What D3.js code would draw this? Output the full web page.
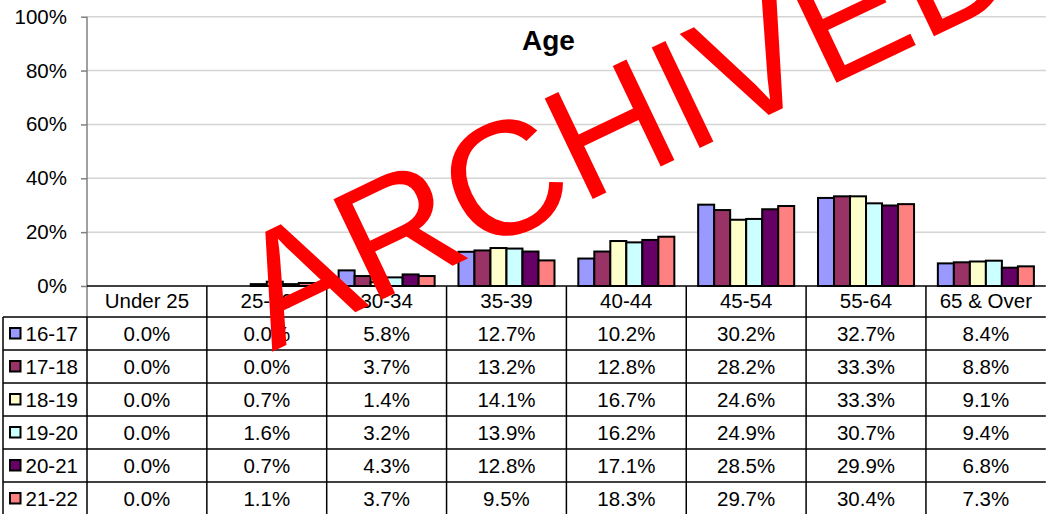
<!DOCTYPE html>
<html>
<head>
<meta charset="utf-8">
<script src="https://cdn.jsdelivr.net/npm/d3@7"></script>
<style>
  body { margin: 0; background: #fff; }
  text { font-family: Arial, 'Liberation Sans', sans-serif; }
</style>
</head>
<body>
<svg id="age-view" width="1046" height="514"></svg>
<script>

// categories along the x axis / table header
const categories = ['Under 25', '25-29', '30-34', '35-39', '40-44', '45-54', '55-64', '65 & Over'];

// series (legend rows)
const seriesNames = ['16-17', '17-18', '18-19', '19-20', '20-21', '21-22'];
const seriesColors = ['#9999FF', '#993366', '#FFFFCC', '#CCFFFF', '#660066', '#FF8080'];

// percent values, one array per series
const s16_17 = [0.0, 0.0, 5.8, 12.7, 10.2, 30.2, 32.7, 8.4];
const s17_18 = [0.0, 0.0, 3.7, 13.2, 12.8, 28.2, 33.3, 8.8];
const s18_19 = [0.0, 0.7, 1.4, 14.1, 16.7, 24.6, 33.3, 9.1];
const s19_20 = [0.0, 1.6, 3.2, 13.9, 16.2, 24.9, 30.7, 9.4];
const s20_21 = [0.0, 0.7, 4.3, 12.8, 17.1, 28.5, 29.9, 6.8];
const s21_22 = [0.0, 1.1, 3.7, 9.5, 18.3, 29.7, 30.4, 7.3];

const yTicks = [0, 20, 40, 60, 80, 100];

const title = 'Age';
const stamp = 'ARCHIVED';

class AgeView
{
  constructor()
  {
    this.svg = d3.select('#age-view');
    this.values = [s16_17, s17_18, s18_19, s19_20, s20_21, s21_22];

    this.left = 87;
    this.right = 1045.8;
    this.tableLeft = 3;
    this.headerTop = 286;
    this.headerBottom = 317;
    this.rowH = 33;
    this.fontSize = 20.5;

    this.x = d3.scaleBand().domain(categories).range([this.left, this.right]);
    this.xs = d3.scaleBand().domain(seriesNames).range([0, this.x.bandwidth()])
                .paddingInner(0).paddingOuter(0.744);
    this.y = d3.scaleLinear().domain([0, 100]).range([286, 16.7]);
    this.color = d3.scaleOrdinal().domain(seriesNames).range(seriesColors);
  }

  draw_grid()
  {
    this.svg.append('g')
      .selectAll('line')
      .data(yTicks.filter(t => t > 0))
      .join('line')
      .attr('x1', this.left).attr('x2', this.right)
      .attr('y1', d => this.y(d)).attr('y2', d => this.y(d))
      .attr('stroke', '#d4d4d4')
      .attr('stroke-width', 1.5);

    var axis = this.svg.append('g')
      .attr('transform', 'translate(' + this.left + ',0)')
      .call(d3.axisLeft(this.y).tickValues(yTicks).tickFormat(d => d + '%').tickSize(6).tickPadding(14));

    axis.select('.domain').remove();
    axis.selectAll('line').attr('stroke', '#808080').attr('stroke-width', 1.5);
    axis.selectAll('text')
      .attr('fill', '#000')
      .style('font-size', this.fontSize + 'px')
      .style('font-family', 'Arial, "Liberation Sans", sans-serif');

    // vertical axis line runs down through the header row
    this.svg.append('line')
      .attr('x1', this.left).attr('x2', this.left)
      .attr('y1', this.y(100)).attr('y2', this.headerBottom)
      .attr('stroke', '#808080').attr('stroke-width', 1.5);
  }

  draw_bars()
  {
    var rows = [];
    this.values.forEach((vals, si) => {
      vals.forEach((v, ci) => rows.push({series: seriesNames[si], cat: categories[ci], value: v}));
    });

    this.svg.append('g')
      .selectAll('rect')
      .data(rows)
      .join('rect')
      .attr('x', d => this.x(d.cat) + this.xs(d.series))
      .attr('width', this.xs.bandwidth())
      .attr('y', d => this.y(d.value))
      .attr('height', d => this.y(0) - this.y(d.value))
      .attr('fill', d => this.color(d.series))
      .attr('stroke', '#000')
      .attr('stroke-width', 2);
  }

  draw_table()
  {
    var g = this.svg.append('g');
    var bottom = this.headerBottom + this.rowH * seriesNames.length;
    var fs = this.fontSize;

    // zero line / table top
    g.append('line')
      .attr('x1', this.left).attr('x2', this.right)
      .attr('y1', this.y(0)).attr('y2', this.y(0))
      .attr('stroke', '#000').attr('stroke-width', 1.5);

    // row separators
    d3.range(seriesNames.length + 1).forEach(i => {
      var yy = this.headerBottom + i * this.rowH;
      g.append('line')
        .attr('x1', this.tableLeft).attr('x2', this.right)
        .attr('y1', yy).attr('y2', yy)
        .attr('stroke', '#000').attr('stroke-width', 1.5);
    });

    // column separators
    categories.slice(1).forEach(c => {
      g.append('line')
        .attr('x1', this.x(c)).attr('x2', this.x(c))
        .attr('y1', this.y(0)).attr('y2', bottom)
        .attr('stroke', '#000').attr('stroke-width', 1.5);
    });
    g.append('line')
      .attr('x1', this.left).attr('x2', this.left)
      .attr('y1', this.headerBottom).attr('y2', bottom)
      .attr('stroke', '#000').attr('stroke-width', 1.5);
    g.append('line')
      .attr('x1', this.tableLeft).attr('x2', this.tableLeft)
      .attr('y1', this.headerBottom).attr('y2', bottom)
      .attr('stroke', '#000').attr('stroke-width', 1.5);

    // header labels
    g.selectAll('.hdr')
      .data(categories)
      .join('text')
      .attr('class', 'hdr')
      .attr('x', d => this.x(d) + this.x.bandwidth() / 2)
      .attr('y', (this.y(0) + this.headerBottom) / 2 + fs * 0.34)
      .attr('text-anchor', 'middle')
      .style('font-size', fs + 'px')
      .text(d => d);

    // legend keys + values
    seriesNames.forEach((s, si) => {
      var cy = this.headerBottom + si * this.rowH + this.rowH / 2;

      g.append('rect')
        .attr('x', 10).attr('y', cy - 5.5)
        .attr('width', 10.5).attr('height', 10.5)
        .attr('fill', this.color(s))
        .attr('stroke', '#000').attr('stroke-width', 2);

      g.append('text')
        .attr('x', 25.5).attr('y', cy + fs * 0.36)
        .style('font-size', fs + 'px')
        .text(s);

      g.selectAll('.v' + si)
        .data(this.values[si])
        .join('text')
        .attr('x', (d, i) => this.x(categories[i]) + this.x.bandwidth() / 2)
        .attr('y', cy + fs * 0.36)
        .attr('text-anchor', 'middle')
        .style('font-size', fs + 'px')
        .text(d => d.toFixed(1) + '%');
    });
  }

  draw_title()
  {
    this.svg.append('text')
      .attr('x', 548.5).attr('y', 50)
      .attr('text-anchor', 'middle')
      .style('font-size', '28px')
      .style('font-weight', 'bold')
      .text(title);
  }

  draw_stamp()
  {
    this.svg.append('text')
      .attr('transform', 'translate(272,352) rotate(-25.5)')
      .attr('fill', '#FF0000')
      .style('font-size', '162px')
      .text(stamp);
  }

  render()
  {
    this.draw_grid();
    this.draw_bars();
    this.draw_table();
    this.draw_title();
    this.draw_stamp();
  }
}

new AgeView().render();

</script>
</body>
</html>
